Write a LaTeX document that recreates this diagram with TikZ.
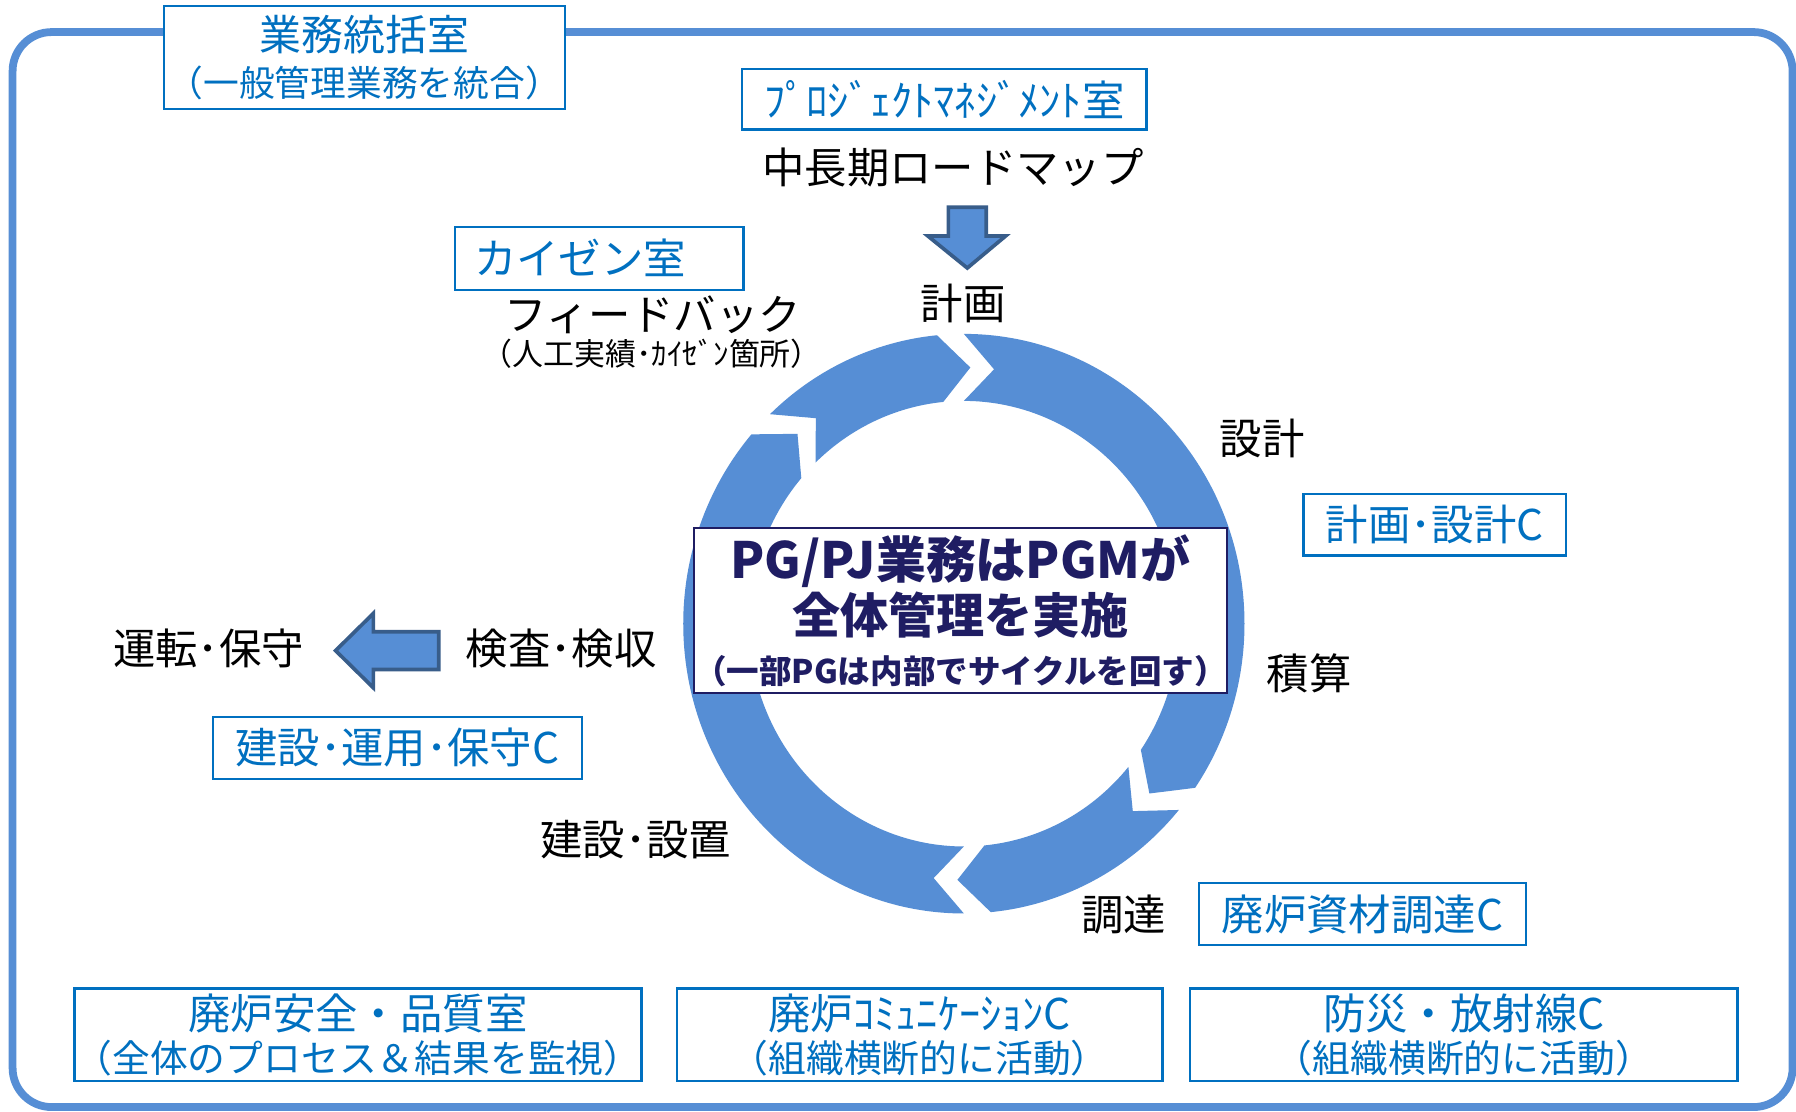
\documentclass[tikz,border=0pt]{standalone}
\usepackage{fontspec}
\setmainfont{Noto Sans CJK JP}
\definecolor{boxblue}{RGB}{0,112,192}
\definecolor{ringblue}{RGB}{86,142,213}
\definecolor{arrowedge}{RGB}{56,93,138}
\definecolor{navy}{RGB}{31,29,99}
\newcommand\ringpiece[2]{%
  \fill[ringblue] (#1:245 and 253) arc[start angle=#1, end angle=#2, x radius=245, y radius=253]
    -- ({#2-7}:216.25 and 223.75) -- (#2:187.5 and 194.5)
    arc[start angle=#2, end angle=#1, x radius=187.5, y radius=194.5]
    -- ({#1-7}:216.25 and 223.75) -- cycle;}
\begin{document}
\begin{tikzpicture}[x=0.5pt,y=-0.5pt,
  lbl/.style={inner sep=0pt, text=black, font=\fontsize{18.5}{22}\selectfont},
  bbox/.style={draw=boxblue, line width=1pt, fill=white, text=boxblue, inner sep=0pt, align=center},
  cbox/.style={bbox, minimum height=27pt, font=\fontsize{18.5}{22}\selectfont},
  lowbox/.style={bbox, minimum height=40.5pt, font=\fontsize{16.5}{18.5}\selectfont},
  blockarrow/.style={fill=ringblue, draw=arrowedge, line width=1.6pt}]
\fill[white] (0,0) rectangle (1568,970);
\useasboundingbox (0,0) rectangle (1568,970);
% outer frame
\draw[ringblue, line width=3.4pt, rounded corners=17pt] (11,28) rectangle (1565,966.5);
% top-left box
\node[bbox, minimum width=175pt, minimum height=45pt, font=\fontsize{15.6}{20}\selectfont] (gyomu) at (318,50)
  {{\fontsize{18.3}{20}\selectfont 業務統括室}\\（一般管理業務を統合）};
% project management
\node[cbox, minimum width=176.5pt, minimum height=26.5pt] (pm) at (824.5,86.5) {ﾌﾟﾛｼﾞｪｸﾄﾏﾈｼﾞﾒﾝﾄ室};
\node[lbl] (roadmap) at (832,146) {中長期ロードマップ};
\draw[blockarrow] (828,181) -- (861,181) -- (861,206) -- (878,206) -- (844.5,234) -- (810,206) -- (828,206) -- cycle;
\node[lbl] (plan) at (841,265) {計画};
% kaizen
\node[bbox, anchor=west, align=left, text width=109pt, inner xsep=8.5pt, minimum height=27.5pt,
  font=\fontsize{18.5}{22}\selectfont] (kaizen) at (396,225.5) {カイゼン室};
\node[lbl] (fb) at (570,275) {フィードバック};
\node[lbl, font=\fontsize{13.5}{16}\selectfont] (fbsub) at (569,309) {（人工実績･ｶｲｾﾞﾝ箇所）};
% cycle ring
\begin{scope}[shift={(841.5,544.5)}, yscale=-1]
  \ringpiece{90}{-34.5}
  \ringpiece{-40}{-84.5}
  \ringpiece{-90}{-220.8}
  \ringpiece{133.7}{95.5}
\end{scope}
% centre box
\node[draw=navy, line width=1pt, fill=white, text=navy, align=center, minimum width=232.5pt,
  minimum height=72pt, inner sep=0pt, font=\bfseries\fontsize{21}{24}\selectfont] (pgm) at (838.5,533)
  {{\fontsize{21.8}{24}\selectfont PG/PJ業務はPGMが}\\全体管理を実施\\[-2pt]{\fontsize{14.2}{22}\selectfont （一部PGは内部でサイクルを回す）}};
% step labels
\node[lbl] (sekkei) at (1102,383) {設計};
\node[lbl] (sekisan) at (1143,588) {積算};
\node[lbl] (chotatsu) at (981,798) {調達};
\node[lbl] (kensetsu) at (555,733) {建設･設置};
\node[lbl] (kensa) at (490,566) {検査･検収};
\node[lbl] (unten) at (182,566) {運転･保守};
\draw[blockarrow] (383,551.5) -- (326,551.5) -- (326,535.5) -- (293,568) -- (326,600.5) -- (326,584.5) -- (383,584.5) -- cycle;
% centre boxes
\node[cbox, minimum width=114.5pt] (kcenter) at (1252.5,458) {計画･設計C};
\node[cbox, minimum width=161pt] (kscenter) at (347,653) {建設･運用･保守C};
\node[cbox, minimum width=142.5pt] (shizai) at (1189.5,798) {廃炉資材調達C};
% bottom boxes
\node[lowbox, minimum width=246.5pt] (anzen) at (312.5,903.5)
  {{\fontsize{18.5}{18.5}\selectfont 廃炉安全・品質室}\\（全体のプロセス＆結果を監視）};
\node[lowbox, minimum width=212pt] (comm) at (803,903.5)
  {{\fontsize{18.5}{18.5}\selectfont 廃炉ｺﾐｭﾆｹｰｼｮﾝC}\\（組織横断的に活動）};
\node[lowbox, minimum width=239pt] (bousai) at (1278,903.5)
  {{\fontsize{18.5}{18.5}\selectfont 防災・放射線C}\\（組織横断的に活動）};
\end{tikzpicture}
\end{document}
